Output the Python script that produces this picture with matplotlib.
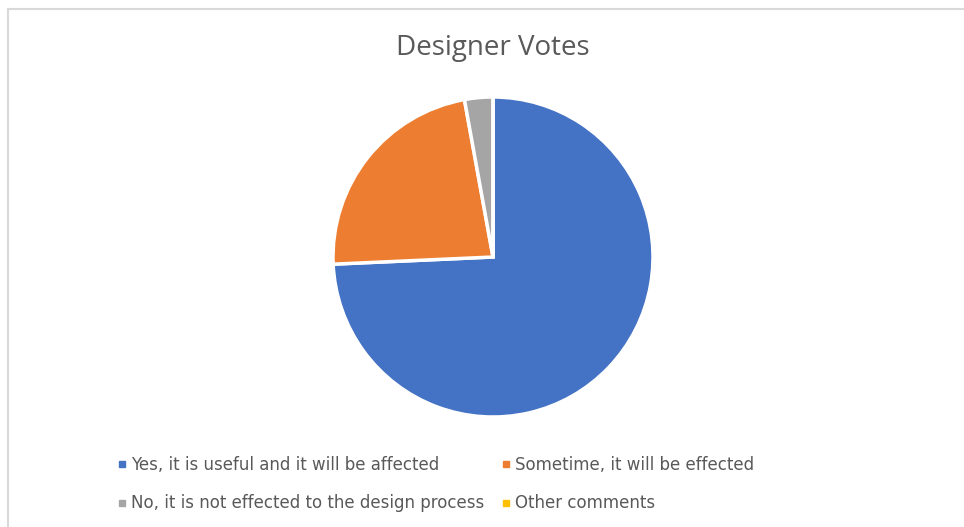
import matplotlib.pyplot as plt
from matplotlib.lines import Line2D

# vote counts
labels = ['Yes, it is useful and it will be affected',
          'Sometime, it will be effected',
          'No, it is not effected to the design process',
          'Other comments']
votes = [26, 8, 1, 0]
colors = ['#4472C4', '#ED7D31', '#A5A5A5', '#FFC000']

W, H = 964, 527
fig = plt.figure(figsize=(W / 100, H / 100), dpi=100)
fig.patch.set_facecolor('white')

# chart border (only top and left edges visible in the picture)
fig.add_artist(Line2D([8 / W, 1], [1 - 9 / H, 1 - 9 / H], color='#d9d9d9', lw=1.5))
fig.add_artist(Line2D([8 / W, 8 / W], [0, 1 - 9 / H], color='#d9d9d9', lw=1.5))

cx, cy, r = 493, 257, 160
ax = fig.add_axes([(cx - r) / W, 1 - (cy + r) / H, 2 * r / W, 2 * r / H])
ax.pie(votes, colors=colors, startangle=90, counterclock=False,
       wedgeprops=dict(edgecolor='white', linewidth=2.5))
ax.set_xlim(-1, 1)
ax.set_ylim(-1, 1)
ax.axis('off')

fig.text(cx / W, 1 - 48 / H, 'Designer Votes', ha='center', va='center',
         fontsize=20, color='#595959', family='Open Sans')

# legend laid out row by row like the original
order = [0, 2, 1, 3]
handles = [Line2D([], [], marker='s', ls='', color=colors[i], markersize=4.5) for i in order]
fig.legend(handles, [labels[i] for i in order], ncol=2, frameon=False,
           loc='center left', bbox_to_anchor=(110 / W, 1 - 484 / H),
           prop=dict(family='DejaVu Sans', size=12), labelcolor='#595959',
           borderpad=0, handlelength=0.4, handletextpad=0.35,
           columnspacing=1.1, labelspacing=1.25)

fig.savefig('out.png', dpi=100)
